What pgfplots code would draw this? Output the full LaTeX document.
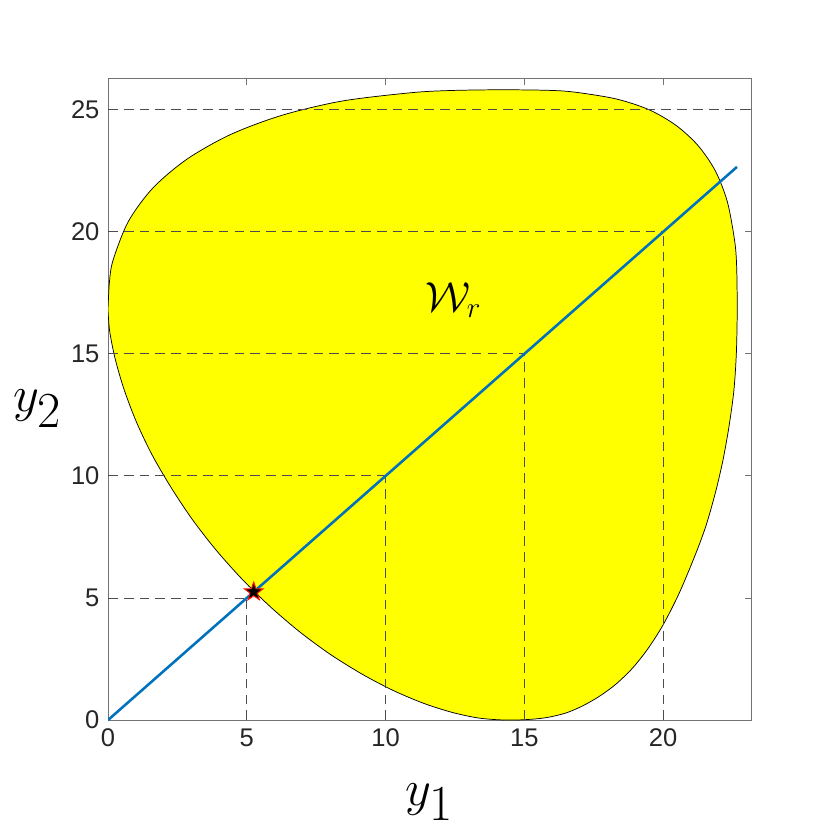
\documentclass[border=0pt]{standalone}
\usepackage[no-math]{fontspec}
\setmainfont{Liberation Sans}
\usepackage{pgfplots}
\pgfplotsset{compat=1.18}

\definecolor{mblue}{rgb}{0,0.447,0.741}
\definecolor{myellow}{rgb}{1,1,0}

% filled five-pointed star, like matlab's pentagram
\pgfdeclareplotmark{pentagram}{%
  \pgfpathmoveto{\pgfpointpolar{90}{\pgfplotmarksize}}%
  \pgfpathlineto{\pgfpointpolar{126}{0.40\pgfplotmarksize}}%
  \pgfpathlineto{\pgfpointpolar{162}{\pgfplotmarksize}}%
  \pgfpathlineto{\pgfpointpolar{198}{0.40\pgfplotmarksize}}%
  \pgfpathlineto{\pgfpointpolar{234}{\pgfplotmarksize}}%
  \pgfpathlineto{\pgfpointpolar{270}{0.40\pgfplotmarksize}}%
  \pgfpathlineto{\pgfpointpolar{306}{\pgfplotmarksize}}%
  \pgfpathlineto{\pgfpointpolar{342}{0.40\pgfplotmarksize}}%
  \pgfpathlineto{\pgfpointpolar{18}{\pgfplotmarksize}}%
  \pgfpathlineto{\pgfpointpolar{54}{0.40\pgfplotmarksize}}%
  \pgfpathclose
  \pgfusepathqfillstroke
}

\begin{document}
\begin{tikzpicture}
\begin{axis}[
    name=ax,
    scale only axis,
    width=264.7pt,
    height=263.9pt,
    xmin=0, xmax=23.2,
    ymin=0, ymax=26.3,
    xtick={0,5,10,15,20},
    ytick={0,5,10,15,20,25},
    tick align=inside,
    major tick length=2.9pt,
    axis line style={black!55, line width=0.4pt},
    tick style={black!55, line width=0.4pt},
    tick label style={font=\fontsize{10.5}{12}\selectfont, text=black!85},
    /pgf/number format/assume math mode=true,
    xlabel={\fontsize{21}{24}\selectfont$y_{\textstyle 1}$},
    ylabel={\fontsize{21}{24}\selectfont$y_{\textstyle 2}$},
    xlabel style={at={(axis description cs:0.5,-0.128)}, anchor=center},
    ylabel style={at={(axis description cs:-0.109,0.485)}, rotate=-90, anchor=center},
]
% the region W_r, traced clockwise from its leftmost point
\addplot[fill=myellow, draw=black, line width=0.3pt, smooth] coordinates {
  (0.00,16.80) (0.05,17.93) (0.18,18.83) (0.73,20.42) (1.62,21.80)
  (2.86,22.99) (4.42,23.99) (6.28,24.78) (8.44,25.36) (10.92,25.70)
  (12.33,25.79) (14.10,25.82) (15.78,25.80) (16.77,25.73) (18.29,25.45)
  (19.50,25.00) (20.48,24.35) (21.27,23.52) (21.89,22.48) (22.32,21.21)
  (22.58,19.61) (22.65,18.57) (22.67,16.80) (22.64,15.06) (22.55,13.50)
  (22.37,12.00) (22.15,10.61) (21.88,9.30) (21.55,7.98) (21.17,6.80)
  (20.58,5.20) (20.00,3.90) (19.45,2.92) (18.90,2.13) (18.30,1.47)
  (17.70,0.97) (17.10,0.58) (16.50,0.29) (15.80,0.10) (15.10,0.02)
  (14.30,0.00) (13.37,0.08) (12.41,0.31) (11.36,0.69) (10.26,1.22)
  (9.14,1.89) (8.01,2.69) (6.91,3.61) (5.85,4.64) (4.84,5.76)
  (3.89,6.97) (3.03,8.23) (2.26,9.55) (1.58,10.88) (1.02,12.22)
  (0.58,13.54) (0.26,14.79) (0.06,15.93) (0.00,16.80)
};

% dashed guide lines
\pgfplotsset{guide/.style={black!70, line width=0.4pt, dash pattern=on 4pt off 2.5pt, forget plot}}
\addplot[guide] coordinates {(0,5) (5,5)};
\addplot[guide] coordinates {(0,10) (10,10)};
\addplot[guide] coordinates {(0,15) (15,15)};
\addplot[guide] coordinates {(0,20) (20,20)};
\addplot[guide] coordinates {(0,25) (23.2,25)};
\addplot[guide] coordinates {(5,0) (5,5)};
\addplot[guide] coordinates {(10,0) (10,10)};
\addplot[guide] coordinates {(15,0) (15,15)};
\addplot[guide] coordinates {(20,0) (20,20)};

% the ray y1 = y2
\addplot[mblue, line width=1.05pt] coordinates {(0,0) (22.66,22.66)};

% point on the boundary
\addplot[only marks, mark=pentagram, mark size=4pt,
         mark options={fill=black, draw=red!85!orange, line width=0.4pt}] coordinates {(5.25,5.25)};

\node at (axis cs:12.45,17.2) {\fontsize{17}{20}\selectfont$\mathcal{W}_r$};
\end{axis}
\pgfresetboundingbox
\path ([shift={(-44.4pt,-45.2pt)}]ax.south west) rectangle ([shift={(32.1pt,32.1pt)}]ax.north east);
\end{tikzpicture}
\end{document}
